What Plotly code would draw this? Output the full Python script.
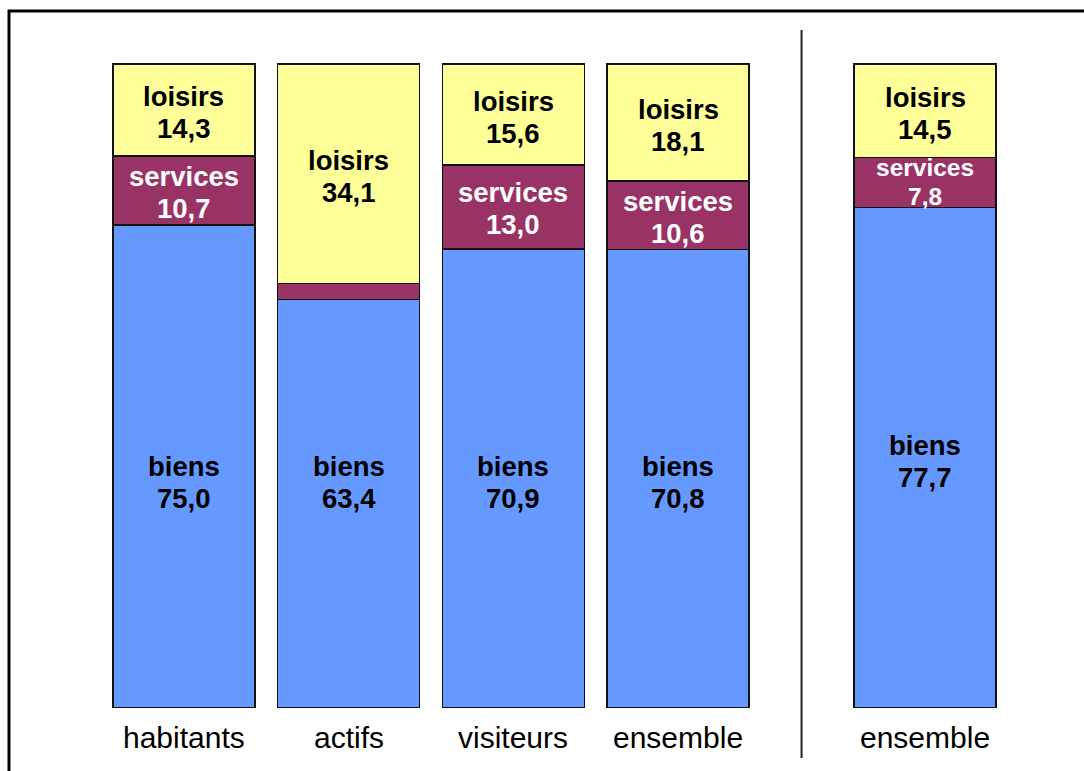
import plotly.graph_objects as go

# Groups and their horizontal slots (the last bar stands apart)
categories = ["habitants", "actifs", "visiteurs", "ensemble", "ensemble"]
slots = [0, 1, 2, 3, 4.5]

# Share of spending by type (%)
biens = [75.0, 63.4, 70.9, 70.8, 77.7]
services = [10.7, 2.5, 13.0, 10.6, 7.8]
loisirs = [14.3, 34.1, 15.6, 18.1, 14.5]

# Which segments carry a label
show_services = [True, False, True, True, True]

C_BIENS = "#6699FF"
C_SERV = "#993366"
C_LOIS = "#FFFF99"
FONT = "Liberation Sans, Arial, sans-serif"
BAR_W = 0.862


def fmt(v):
    return f"{v:.1f}".replace(".", ",")


fig = go.Figure()
for name, vals, col in [("biens", biens, C_BIENS),
                        ("services", services, C_SERV),
                        ("loisirs", loisirs, C_LOIS)]:
    fig.add_trace(go.Bar(
        x=slots, y=vals, name=name, width=BAR_W,
        marker=dict(color=col, line=dict(color="#111111", width=1.6)),
        hoverinfo="skip",
    ))

annotations = []


def two_line(x, y, top, bottom, size, color, gap):
    """Bold two-line label centred on (x, y), lines `gap` px apart."""
    for txt, shift in [(top, gap / 2), (bottom, -gap / 2)]:
        annotations.append(dict(
            x=x, y=y, yshift=shift, text=f"<b>{txt}</b>", showarrow=False,
            yanchor="middle", font=dict(family=FONT, size=size, color=color)))


for i, x in enumerate(slots):
    b, s, l = biens[i], services[i], loisirs[i]
    tot = b + s + l
    b_, s_, l_ = b / tot * 100, s / tot * 100, l / tot * 100
    # biens label: the left group shares one height
    yb = 35.0 if x < 4 else b_ / 2 - 0.6
    two_line(x, yb, "biens", fmt(b), 27.5, "black", 32)
    if show_services[i]:
        if x >= 4:
            two_line(x, b_ + s_ / 2, "services", fmt(s), 24.5, "white", 29)
        else:
            two_line(x, b_ + s_ / 2 - 0.3, "services", fmt(s), 27.5, "white", 32)
    two_line(x, b_ + s_ + l_ / 2 - 0.4, "loisirs", fmt(l), 27.5, "black", 32)
    # category name under the bar
    annotations.append(dict(
        x=x, y=-4.6, text=categories[i], showarrow=False, yanchor="middle",
        font=dict(family=FONT, size=30, color="black")))

fig.update_layout(
    barmode="stack",
    barnorm="percent",
    width=1084, height=771,
    margin=dict(l=0, r=0, t=0, b=0),
    paper_bgcolor="white", plot_bgcolor="white",
    showlegend=False,
    xaxis=dict(range=[-1.117, 5.465], visible=False, fixedrange=True),
    yaxis=dict(range=[-9.87, 109.95], visible=False, fixedrange=True),
    annotations=annotations,
    shapes=[
        # separator between the groups
        dict(type="line", xref="x", yref="y", x0=3.75, x1=3.75,
             y0=-7.85, y1=105.3, line=dict(color="#222222", width=2)),
        # outer frame
        dict(type="rect", xref="paper", yref="paper",
             x0=0.0083, x1=1.02, y0=-0.02, y1=0.9857,
             line=dict(color="black", width=3), fillcolor="rgba(0,0,0,0)"),
    ],
)

fig.write_html("out.html")
